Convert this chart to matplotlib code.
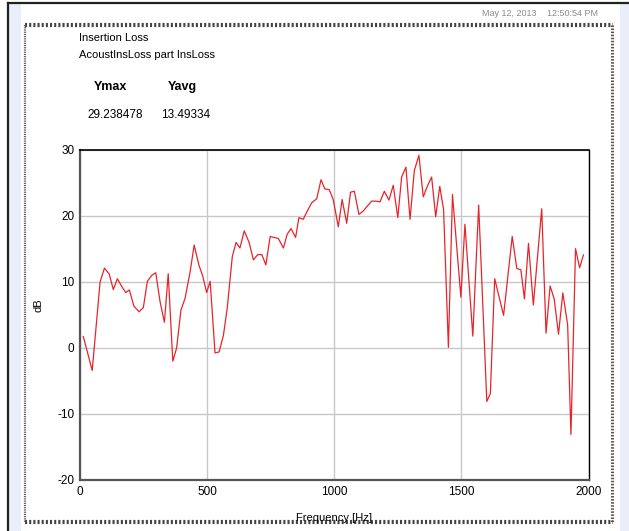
"""Insertion loss chart (report screenshot style)."""

import matplotlib
matplotlib.use("Agg")
import matplotlib.pyplot as plt
from matplotlib.patches import Rectangle

plt.rcParams["font.family"] = ["Liberation Sans", "DejaVu Sans"]
plt.rcParams["axes.unicode_minus"] = False

# --- data ---
freq = [13, 48, 79, 96, 115, 131, 147, 163, 180, 194, 212, 232, 249, 265, 282,
        298, 315, 332, 347, 365, 380, 397, 413, 433, 449, 468, 482, 498, 512,
        531, 547, 564, 579, 599, 614, 629, 646, 665, 682, 699, 715, 731, 748,
        763, 780, 800, 815, 830, 848, 861, 878, 894, 911, 931, 948, 963, 980,
        996, 1016, 1031, 1049, 1064, 1079, 1097, 1114, 1130, 1147, 1164, 1180,
        1197, 1215, 1232, 1250, 1265, 1282, 1298, 1315, 1333, 1350, 1367, 1383,
        1399, 1415, 1430, 1449, 1465, 1498, 1514, 1545, 1568, 1600, 1614, 1631,
        1666, 1700, 1718, 1734, 1748, 1764, 1783, 1816, 1833, 1849, 1865, 1882,
        1899, 1918, 1931, 1949, 1965, 1980]
ins_loss = [1.75, -3.4, 10.0, 12.1, 11.2, 8.85, 10.5, 9.4, 8.4, 8.8, 6.35, 5.5,
            6.1, 10.1, 11.0, 11.4, 7.0, 3.9, 11.25, -2.0, 0.0, 5.75, 7.5, 11.5,
            15.6, 12.5, 11.0, 8.4, 10.1, -0.75, -0.6, 1.9, 6.0, 13.85, 16.0,
            15.15, 17.75, 16.0, 13.35, 14.15, 14.15, 12.6, 16.9, 16.75, 16.6,
            15.15, 17.25, 18.1, 16.75, 19.75, 19.5, 20.75, 22.0, 22.6, 25.5,
            24.1, 24.0, 22.5, 18.35, 22.5, 18.9, 23.6, 23.75, 20.25, 20.75,
            21.5, 22.25, 22.25, 22.15, 23.75, 22.4, 24.65, 19.75, 25.9, 27.4,
            19.5, 26.9, 29.2, 22.9, 24.6, 25.9, 19.9, 24.5, 21.0, 0.1, 23.25,
            7.7, 18.75, 1.8, 21.65, -8.1, -6.9, 10.5, 4.95, 16.9, 12.05, 11.85,
            7.45, 15.85, 6.5, 21.1, 2.25, 9.4, 7.45, 2.1, 8.35, 3.5, -13.1,
            15.05, 12.15, 14.1]
x_ticks = [0, 500, 1000, 1500, 2000]
y_ticks = [-20, -10, 0, 10, 20, 30]
stat_names = ["Ymax", "Yavg"]
stat_values = ["29.238478", "13.49334"]

W, H = 629, 531
fig = plt.figure(figsize=(W / 100, H / 100), dpi=100)
fig.patch.set_facecolor("white")

# page decoration in pixel coordinates
bg = fig.add_axes([0, 0, 1, 1])
bg.set_xlim(0, W)
bg.set_ylim(H, 0)
bg.axis("off")
bg.add_patch(Rectangle((9, 4), 12, H, color="#e9eef8", lw=0))
bg.add_patch(Rectangle((620, 4), 10, H, color="#e9eef8", lw=0))
bg.plot([8, W], [3, 3], color="#222222", lw=1.6)
bg.plot([8, 8], [3, H], color="#222222", lw=1.6)
dot = (0, (0.5, 0.5))
bg.plot([25, 613], [25, 25], color="#444444", lw=3.0, ls=dot)
bg.plot([25, 613], [522, 522], color="#444444", lw=3.0, ls=dot)
bg.plot([25, 25], [25, 522], color="#555555", lw=1.6, ls=dot)
bg.plot([612, 612], [25, 522], color="#555555", lw=2.2, ls=dot)

bg.text(482, 14, "May 12, 2013", fontsize=6.5, color="#8a8a8a", va="center")
bg.text(547, 14, "12:50:54 PM", fontsize=6.5, color="#8a8a8a", va="center")
bg.text(79, 38, "Insertion Loss", fontsize=8, va="center")
bg.text(79, 55, "AcoustInsLoss part InsLoss", fontsize=8, va="center")
for cx, name in zip([110, 182], stat_names):
    bg.text(cx, 87, name, fontsize=9, fontweight="bold", ha="center", va="center")
for cx, val in zip([115, 186], stat_values):
    bg.text(cx, 115, val, fontsize=8.5, ha="center", va="center")

# main plot
ax = fig.add_axes([80 / W, 1 - 480 / H, 508.5 / W, 330 / H])
ax.plot(freq, ins_loss, color="#e8242a", lw=0.9)
ax.set_xlim(0, 2000)
ax.set_ylim(-20, 30)
ax.set_xticks(x_ticks)
ax.set_yticks(y_ticks)
ax.grid(True, color="#c8c8c8", lw=1.0)
ax.set_axisbelow(True)
ax.tick_params(length=0, labelsize=8.5, pad=4)
ax.spines["top"].set_color("black")
ax.spines["right"].set_color("black")
ax.spines["top"].set_linewidth(1.2)
ax.spines["right"].set_linewidth(1.0)
ax.spines["left"].set_color("#555555")
ax.spines["bottom"].set_color("#555555")
ax.spines["left"].set_linewidth(1.6)
ax.spines["bottom"].set_linewidth(1.6)

bg.text(334, 518, "Frequency [Hz]", fontsize=8, ha="center", va="center")
bg.text(39, 305, "dB", fontsize=8, rotation=90, ha="center", va="center")

plt.savefig("out.png", dpi=100, facecolor=fig.get_facecolor())
plt.close()
